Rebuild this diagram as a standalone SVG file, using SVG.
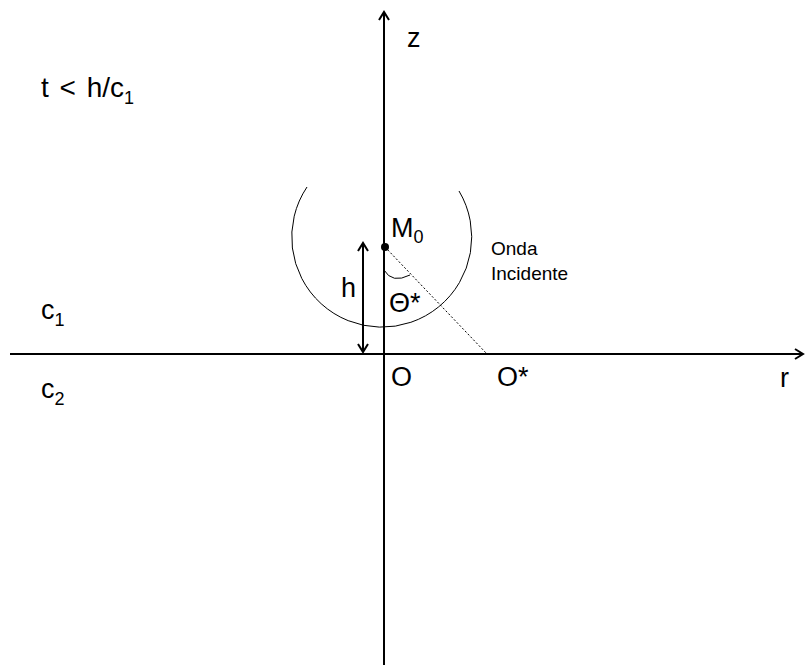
<svg xmlns="http://www.w3.org/2000/svg" width="805" height="665" viewBox="0 0 805 665">
<style>
.ax{stroke:#000;stroke-width:2;fill:none}
.thin{stroke:#000;stroke-width:1;fill:none}
.t{font-family:"Liberation Sans",Arial,sans-serif;fill:#000}
.big{font-size:27px}
.sm{font-size:19px}
.sub{font-size:18px}
</style>
<defs>
<marker id="open" viewBox="0 0 12 12" refX="10" refY="6" markerWidth="12" markerHeight="12" markerUnits="userSpaceOnUse" orient="auto-start-reverse">
<path d="M2,1 L10,6 L2,11" fill="none" stroke="#000" stroke-width="2"/>
</marker>
</defs>
<rect width="805" height="665" fill="#fff"/>
<g id="connectors">
<line class="ax" x1="384" y1="665" x2="384" y2="12" marker-end="url(#open)"/>
<line class="ax" x1="10" y1="354" x2="803" y2="354" marker-end="url(#open)"/>
<line class="ax" x1="363" y1="243" x2="363" y2="352" marker-start="url(#open)" marker-end="url(#open)"/>
<line class="thin" x1="385" y1="247" x2="487" y2="354" stroke-dasharray="2,2"/>
</g>
<g id="wave">
<path class="thin" d="M307,187 A90,90 0 1 0 459,191"/>
</g>
<g id="M0">
<circle cx="385" cy="247" r="4" fill="#000"/>
<text class="t big" x="391" y="237">M<tspan class="sub" dy="6">0</tspan></text>
</g>
<g id="angle">
<path class="thin" d="M384,270 Q392,284 410,275"/>
<text class="t big" x="389" y="312">Θ*</text>
</g>
<g id="labels">
<text class="t big" x="407" y="47">z</text>
<text class="t big" x="41" y="97" style="font-size:28px" word-spacing="3">t &lt; h/c<tspan class="sub" dy="7">1</tspan></text>
<text class="t big" x="41" y="319">c<tspan class="sub" dy="7">1</tspan></text>
<text class="t big" x="41" y="398">c<tspan class="sub" dy="7">2</tspan></text>
<text class="t big" x="341" y="297">h</text>
<text class="t sm" x="491" y="255">Onda</text>
<text class="t sm" x="491" y="280">Incidente</text>
<text class="t big" x="391" y="386">O</text>
<text class="t big" x="497" y="386">O*</text>
<text class="t big" x="780" y="387">r</text>
</g>
</svg>
